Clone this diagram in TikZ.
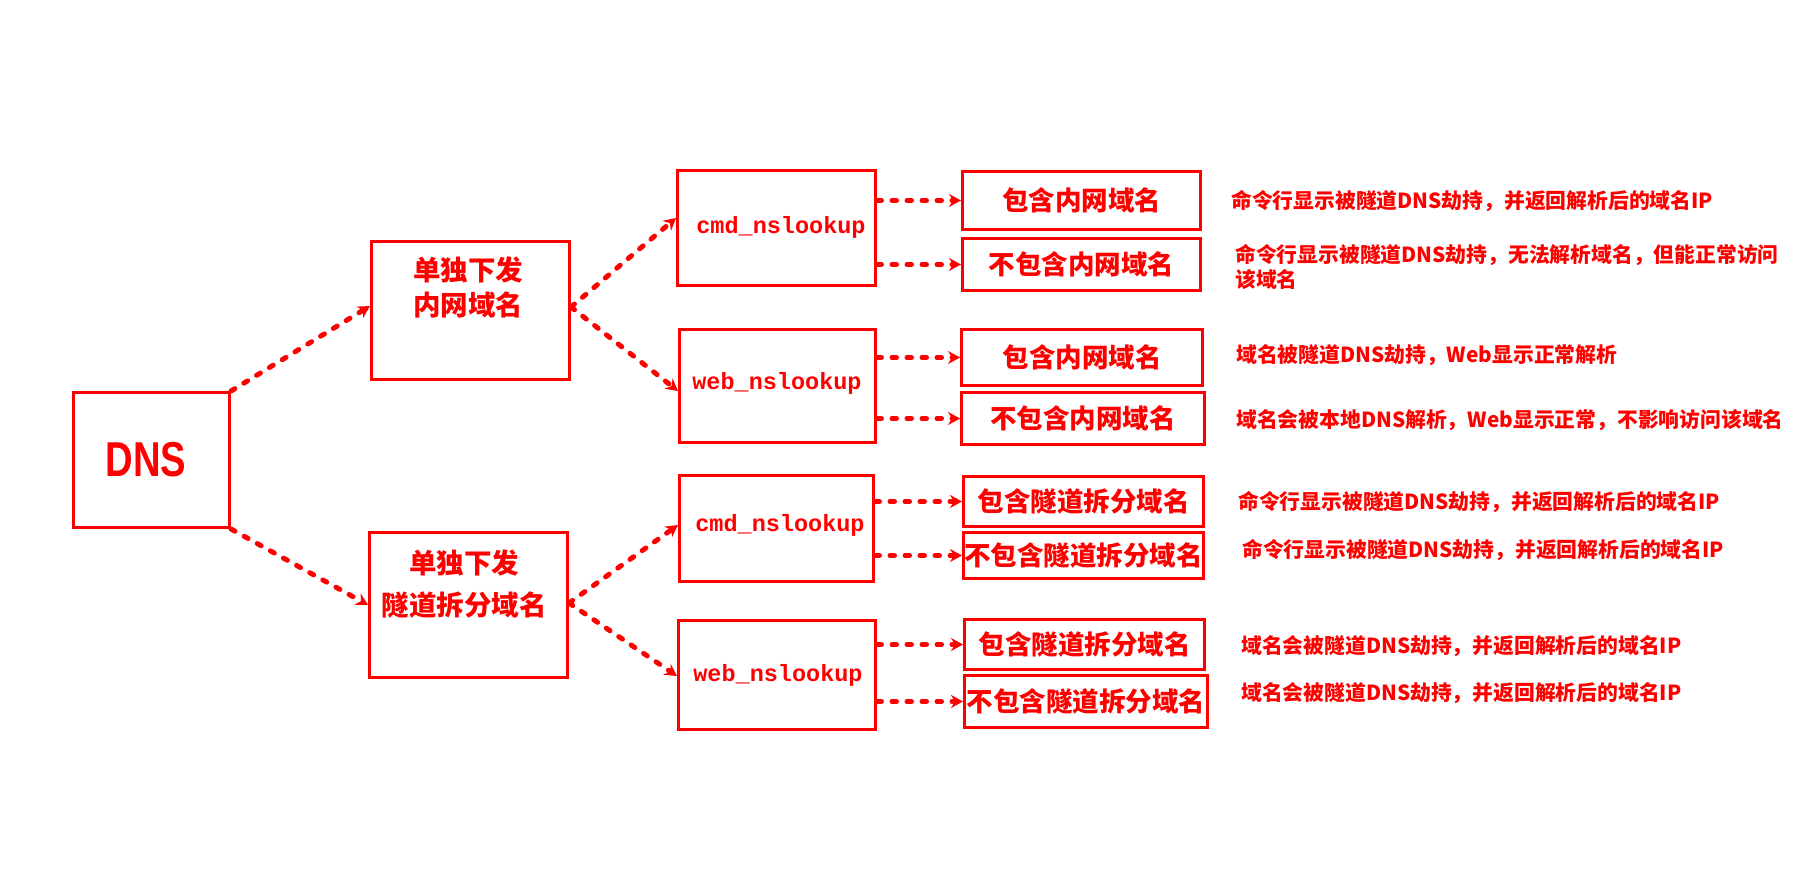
\documentclass[tikz,border=0pt]{standalone}
\usepackage{fontspec}
\setmainfont{Noto Sans CJK SC}
\newfontfamily\dnsfont{Liberation Sans}[FakeStretch=0.78]
\newfontfamily\codefont{Liberation Mono}
\usetikzlibrary{arrows.meta}
\definecolor{rd}{RGB}{255,0,0}
\tikzset{
  box/.style={draw=rd, line width=3pt, anchor=north west, inner sep=0pt},
  conn/.style={draw=rd, line width=5pt, dash pattern=on 4.5pt off 10.5pt, line cap=round,
    -{Stealth[length=12pt,width=13pt,inset=4pt]}},
  btxt/.style={text=rd, inner sep=0pt, align=center},
  rtxt/.style={text=rd, inner sep=0pt, font=\fontsize{26.5}{30}\selectfont\bfseries},
  ctxt/.style={text=rd, inner sep=0pt, font=\fontsize{23.5}{28}\selectfont\codefont\bfseries},
  dtxt/.style={text=rd, inner sep=0pt, anchor=west, align=left, font=\fontsize{20.8}{25}\selectfont\bfseries},
}
\begin{document}
\begin{tikzpicture}[x=1pt,y=-1pt]
\useasboundingbox (0,0) rectangle (1818,894);
% first column
\node[box, minimum width=156pt, minimum height=135pt] (dns) at (72,391) {};
\node[text=rd, inner sep=0pt, font=\fontsize{49}{55}\selectfont\dnsfont\bfseries] (dnst) at (146,460) {DNS};
% second column
\node[box, minimum width=198pt, minimum height=138pt] (b1) at (370,240) {};
\node[btxt, font=\fontsize{27.5}{35}\selectfont\bfseries] (b1t) at (468,287.5) {单独下发\\内网域名};
\node[box, minimum width=198pt, minimum height=145pt] (b2) at (368,531) {};
\node[btxt, font=\fontsize{27.5}{42}\selectfont\bfseries] (b2t) at (464,584) {单独下发\\隧道拆分域名};
% third column
\node[box, minimum width=198pt, minimum height=115pt] (cmd1) at (676,169) {};
\node[ctxt] (cmd1t) at (781,227) {cmd\_nslookup};
\node[box, minimum width=196pt, minimum height=113pt] (web1) at (678,328) {};
\node[ctxt] (web1t) at (777,383) {web\_nslookup};
\node[box, minimum width=194pt, minimum height=106pt] (cmd2) at (678,474) {};
\node[ctxt] (cmd2t) at (780,525) {cmd\_nslookup};
\node[box, minimum width=197pt, minimum height=109pt] (web2) at (677,619) {};
\node[ctxt] (web2t) at (778,675) {web\_nslookup};
% fourth column
\node[box, minimum width=238pt, minimum height=58pt] (r1) at (961,170) {};
\node[rtxt] (r1t) at (r1.center) {包含内网域名};
\node[box, minimum width=238pt, minimum height=52pt] (r2) at (961,237) {};
\node[rtxt] (r2t) at (r2.center) {不包含内网域名};
\node[box, minimum width=241pt, minimum height=56pt] (r3) at (960,328) {};
\node[rtxt] (r3t) at (r3.center) {包含内网域名};
\node[box, minimum width=243pt, minimum height=52pt] (r4) at (960,391) {};
\node[rtxt] (r4t) at (r4.center) {不包含内网域名};
\node[box, minimum width=240pt, minimum height=50pt] (r5) at (962,475) {};
\node[rtxt] (r5t) at (r5.center) {包含隧道拆分域名};
\node[box, minimum width=240pt, minimum height=46pt] (r6) at (962,531) {};
\node[rtxt] (r6t) at (r6.center) {不包含隧道拆分域名};
\node[box, minimum width=240pt, minimum height=50pt] (r7) at (963,618) {};
\node[rtxt] (r7t) at (r7.center) {包含隧道拆分域名};
\node[box, minimum width=243pt, minimum height=52pt] (r8) at (963,674) {};
\node[rtxt] (r8t) at (r8.center) {不包含隧道拆分域名};
% descriptions
\node[dtxt] (d1) at (1231,201) {命令行显示被隧道DNS劫持，并返回解析后的域名IP};
\node[dtxt] (d2) at (1235,266.5) {命令行显示被隧道DNS劫持，无法解析域名，但能正常访问\\该域名};
\node[dtxt] (d3) at (1236,355) {域名被隧道DNS劫持，Web显示正常解析};
\node[dtxt] (d4) at (1236,420) {域名会被本地DNS解析，Web显示正常，不影响访问该域名};
\node[dtxt] (d5) at (1238,502) {命令行显示被隧道DNS劫持，并返回解析后的域名IP};
\node[dtxt] (d6) at (1242,550) {命令行显示被隧道DNS劫持，并返回解析后的域名IP};
\node[dtxt] (d7) at (1241,646) {域名会被隧道DNS劫持，并返回解析后的域名IP};
\node[dtxt] (d8) at (1241,693) {域名会被隧道DNS劫持，并返回解析后的域名IP};
% connectors
\draw[conn] (dns.north east) -- (b1.west |- 0,306);
\draw[conn] (dns.south east) -- (b2.west |- 0,605);
\draw[conn] (b1.east |- 0,307) -- (cmd1.west |- 0,218);
\draw[conn] (b1.east |- 0,307) -- (web1.west |- 0,391);
\draw[conn] (b2.east |- 0,603) -- (cmd2.west |- 0,525);
\draw[conn] (b2.east |- 0,603) -- (web2.west |- 0,676);
\draw[conn] (cmd1.east |- r1.west) -- (r1.west);
\draw[conn] (cmd1.east |- r2.west) -- (r2.west);
\draw[conn] (web1.east |- r3.west) -- (r3.west);
\draw[conn] (web1.east |- r4.west) -- (r4.west);
\draw[conn] (cmd2.east |- r5.west) -- (r5.west);
\draw[conn] (cmd2.east |- r6.west) -- (r6.west);
\draw[conn] (web2.east |- r7.west) -- (r7.west);
\draw[conn] (web2.east |- r8.west) -- (r8.west);
\end{tikzpicture}
\end{document}
